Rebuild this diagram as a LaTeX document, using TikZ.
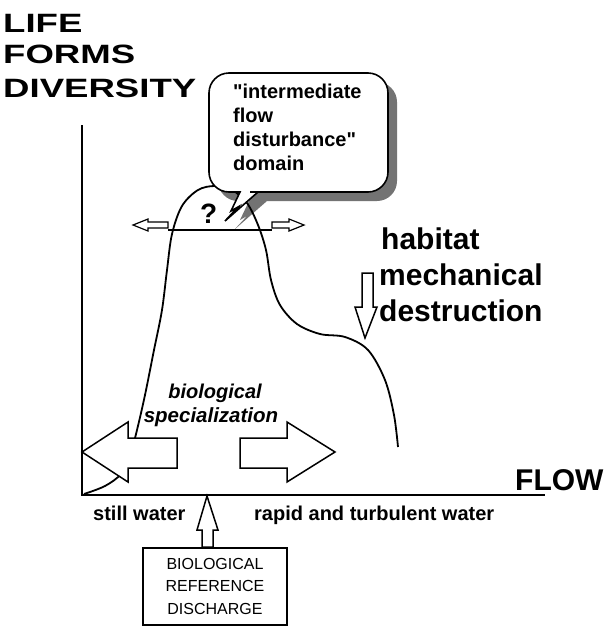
\documentclass[tikz,border=0pt]{standalone}
\usepackage{fontspec}
\setmainfont{Liberation Sans}[Ligatures=TeXOff]
\newfontfamily\widefont{Liberation Sans}[FakeStretch=1.38]
\usetikzlibrary{patterns}
\tikzset{
  axisline/.style={line width=2pt},
  curveline/.style={line width=1.8pt},
  hollowarrow/.style={draw, fill=white, line width=1.5pt, line join=miter},
  shadowfill/.style={fill=black!55},
  bubblebox/.style={draw, fill=white, line width=1.6pt, line join=miter},
  lbl/.style={inner sep=0pt, anchor=base west},
}
\def\bubblepath{(209,130) [rounded corners=20pt] -- (209,73) -- (388,73) -- (388,192) -- (270,192) [sharp corners] -- (258,192) -- (250,199) -- (225,221) -- (238,207) -- (231,211) -- (240,192) -- (232,192) [rounded corners=20pt] -- (209,192) -- cycle}
\begin{document}
\begin{tikzpicture}[x=1pt,y=-1pt]
\useasboundingbox (0,0) rectangle (605,627);
% axes
\coordinate (ytop) at (82,125);
\coordinate (orig) at (82,495);
\coordinate (xend) at (545,495);
\draw[axisline] (ytop) -- (orig) -- (xend);
% shadow of bubble
\fill[shadowfill, shift={(9,9)}] \bubblepath;
% diversity curve
\draw[curveline] plot[smooth, tension=0.55] coordinates {
 (84,494) (105,486) (121,474) (130,456) (137,430) (145,395) (154,350)
 (162,310) (167,270) (172,234) (182,206) (198,190) (215,186) (232,190)
 (247,203) (258,225) (266,250) (271,280) (280,305) (297,324) (320,334)
 (345,337) (368,350) (385,380) (394,415) (398,447)};
% bubble
\path[bubblebox] \bubblepath;
% domain line with small hollow arrows
\draw[line width=1.6pt] (168,230) -- (272,230);
\path[hollowarrow, line width=1.2pt] (133,225) -- (148,219) -- (148,222) -- (168,222) -- (168,228) -- (148,228) -- (148,231) -- cycle;
\path[hollowarrow, line width=1.2pt] (272,222) -- (289,222) -- (289,219) -- (304,225) -- (289,231) -- (289,228) -- (272,228) -- cycle;
% big hollow arrows
\path[hollowarrow] (82,452) -- (128,422) -- (128,438) -- (177,438) -- (177,468) -- (128,468) -- (128,482) -- cycle;
\path[hollowarrow] (240,438) -- (287,438) -- (287,422) -- (335,452) -- (287,482) -- (287,468) -- (240,468) -- cycle;
% up arrow from box
\path[hollowarrow] (207,496) -- (218,530) -- (213,530) -- (213,547) -- (202,547) -- (202,530) -- (197,530) -- cycle;
% down arrow (habitat)
\path[hollowarrow] (362,273) -- (373,273) -- (373,307) -- (377,307) -- (365,338) -- (355,307) -- (362,307) -- cycle;
% box
\node[draw, line width=1.5pt, minimum width=144pt, minimum height=77pt, anchor=north, align=center, inner sep=0pt,
      font=\fontsize{16}{22.5}\selectfont] (box) at (215,547) {BIOLOGICAL\\REFERENCE\\DISCHARGE};
% texts
\node[lbl, font=\widefont\bfseries\fontsize{26.5}{32}\selectfont] (ylab1) at (3,32) {LIFE};
\node[lbl, font=\widefont\bfseries\fontsize{26.5}{32}\selectfont] (ylab2) at (3,63) {FORMS};
\node[lbl, font=\widefont\bfseries\fontsize{26.5}{32}\selectfont] (ylab3) at (3,97) {DIVERSITY};
\node[lbl, font=\bfseries\fontsize{30}{36}\selectfont] (xlab) at (515,490) {FLOW};
\node[lbl, font=\bfseries\fontsize{30}{36}\selectfont] (hab1) at (381,249) {habitat};
\node[lbl, font=\bfseries\fontsize{30}{36}\selectfont] (hab2) at (379,285) {mechanical};
\node[lbl, font=\bfseries\fontsize{30}{36}\selectfont] (hab3) at (379,321) {destruction};
\node[lbl, font=\bfseries\fontsize{20}{24}\selectfont] (bt1) at (233,98) {"intermediate};
\node[lbl, font=\bfseries\fontsize{20}{24}\selectfont] (bt2) at (233,122) {flow};
\node[lbl, font=\bfseries\fontsize{20}{24}\selectfont] (bt3) at (233,146) {disturbance"};
\node[lbl, font=\bfseries\fontsize{20}{24}\selectfont] (bt4) at (233,170) {domain};
\node[lbl, font=\bfseries\fontsize{28}{32}\selectfont] (qm) at (200,223) {?};
\node[inner sep=0pt, anchor=base, font=\bfseries\itshape\fontsize{20}{24}\selectfont] (bio1) at (215,398) {biological};
\node[inner sep=0pt, anchor=base, font=\bfseries\itshape\fontsize{20.5}{24}\selectfont] (bio2) at (211,422) {specialization};
\node[lbl, font=\bfseries\fontsize{20}{24}\selectfont] (still) at (93,520) {still water};
\node[lbl, font=\bfseries\fontsize{20}{24}\selectfont] (rapid) at (254,520) {rapid and turbulent water};
\end{tikzpicture}
\end{document}
